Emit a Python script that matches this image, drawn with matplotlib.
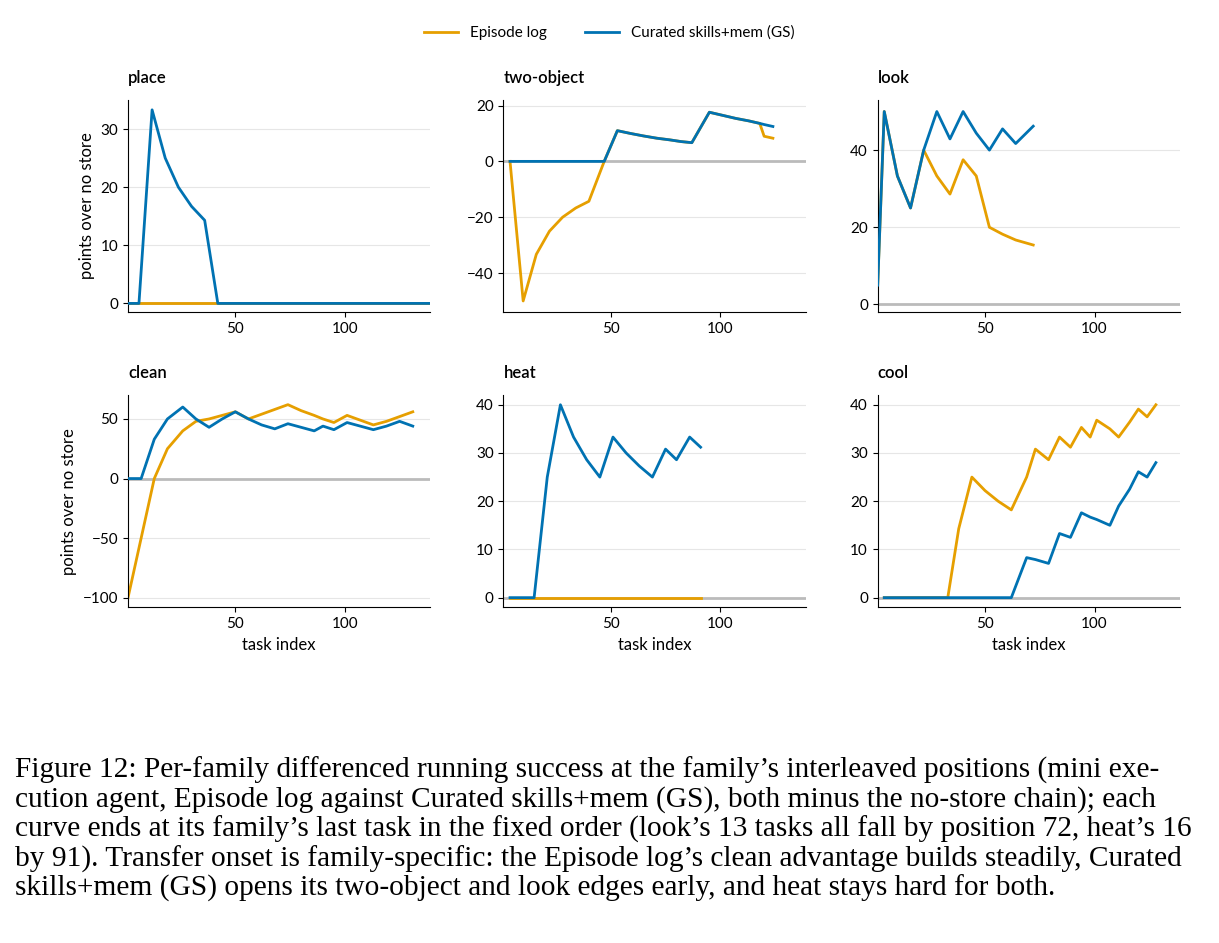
import matplotlib
matplotlib.use("Agg")
import matplotlib.pyplot as plt

plt.rcParams['font.family'] = ['Lato', 'DejaVu Sans']

ORANGE = '#E69F00'
BLUE = '#0072B2'

# per-family series: (x, episode log, curated skills+mem)
place_x = [1, 6, 12, 18, 24, 30, 36, 42, 139]
place_ep = [0, 0, 0, 0, 0, 0, 0, 0, 0]
place_gs = [0, 0, 33.3, 25, 20, 16.7, 14.3, 0, 0]

two_x = [4, 10, 16, 22, 28, 34, 40, 47, 53, 59, 65, 71, 77, 82, 87, 95, 101, 107, 113, 118, 120, 124]
two_ep = [0, -50, -33.3, -25, -20, -16.7, -14.3, 0, 11, 10, 9.1, 8.3, 7.7, 7.1, 6.7, 17.6, 16.5, 15.4, 14.5, 13.6, 9, 8.3]
two_gs = [0, 0, 0, 0, 0, 0, 0, 0, 11, 10, 9.1, 8.3, 7.7, 7.1, 6.7, 17.6, 16.5, 15.4, 14.5, 13.6, 13.2, 12.5]

look_x = [1, 4, 10, 16, 22, 28, 34, 40, 46, 52, 58, 64, 72]
look_ep = [5, 50, 33.3, 25, 40, 33.3, 28.6, 37.5, 33.3, 20, 18.2, 16.7, 15.4]
look_gs = [5, 50, 33.3, 25, 40, 50, 42.9, 50, 44.4, 40, 45.5, 41.7, 46.2]

clean_x = [1, 7, 13, 19, 26, 32, 38, 44, 50, 56, 62, 68, 74, 80, 86, 90, 95, 101, 107, 113, 119, 125, 131]
clean_ep = [-100, -50, 0, 25, 40, 48, 50, 53, 56, 50, 54, 58, 62, 57, 53, 50, 47, 53, 49, 45, 48, 52, 56]
clean_gs = [0, 0, 33, 50, 60, 50, 43, 50, 56, 50, 45, 41.7, 46, 43, 40, 44, 41, 47, 44, 41, 44, 48, 44]

heat_x = [4, 15, 21, 27, 33, 39, 45, 51, 57, 63, 69, 75, 80, 86, 91]
heat_ep = [0] * 15
heat_gs = [0, 0, 25, 40, 33.3, 28.6, 25, 33.3, 30, 27.3, 25, 30.8, 28.6, 33.3, 31.2]

cool_x = [4, 33, 38, 44, 50, 56, 62, 69, 73, 79, 84, 89, 94, 98, 101, 107, 111, 116, 120, 124, 128]
cool_ep = [0, 0, 14.3, 25, 22.2, 20, 18.2, 25, 30.8, 28.6, 33.3, 31.2, 35.3, 33.3, 36.8, 35, 33.3, 36.4, 39.1, 37.5, 40]
cool_gs = [0, 0, 0, 0, 0, 0, 0, 8.3, 7.9, 7.1, 13.3, 12.5, 17.6, 16.7, 16.2, 15, 19, 22.5, 26.1, 25, 28]

families = [
    ('place', place_x, place_ep, place_gs, [0, 10, 20, 30], (-1.5, 35)),
    ('two-object', two_x, two_ep, two_gs, [-40, -20, 0, 20], (-54, 22)),
    ('look', look_x, look_ep, look_gs, [0, 20, 40], (-2, 53)),
    ('clean', clean_x, clean_ep, clean_gs, [-100, -50, 0, 50], (-108, 70)),
    ('heat', heat_x, heat_ep, heat_gs, [0, 10, 20, 30, 40], (-2, 42)),
    ('cool', cool_x, cool_ep, cool_gs, [0, 10, 20, 30, 40], (-2, 42)),
]

fig = plt.figure(figsize=(12.19, 9.43), dpi=100)
lefts = [0.105, 0.413, 0.720]
bottoms = [0.669, 0.356]
w, h = 0.248, 0.225

for i, (name, x, ep, gs, yt, yl) in enumerate(families):
    ax = fig.add_axes([lefts[i % 3], bottoms[i // 3], w, h])
    ax.axhline(0, color='#bbbbbb', lw=2, zorder=1)
    ax.plot(x, ep, color=ORANGE, lw=2, zorder=2, label='Episode log')
    ax.plot(x, gs, color=BLUE, lw=2, zorder=3, label='Curated skills+mem (GS)')
    ax.set_xlim(1, 139)
    ax.set_xticks([50, 100])
    ax.set_yticks(yt)
    ax.set_ylim(*yl)
    ax.grid(axis='y', color='#e6e6e6', lw=0.8)
    ax.set_axisbelow(True)
    for s in ['top', 'right']:
        ax.spines[s].set_visible(False)
    ax.tick_params(labelsize=11)
    ax.set_title(name, loc='left', fontsize=12, fontweight='semibold', pad=12)
    if i % 3 == 0:
        ax.set_ylabel('points over no store', fontsize=12)
    if i >= 3:
        ax.set_xlabel('task index', fontsize=12)
    if i == 0:
        handles, labels = ax.get_legend_handles_labels()

fig.legend(handles, labels, loc='center', bbox_to_anchor=(0.5, 0.965), ncol=2,
           frameon=False, fontsize=11, handlelength=2.2, columnspacing=2.5)

caption = ("Figure 12: Per-family differenced running success at the family\u2019s interleaved positions (mini exe-\n"
           "cution agent, Episode log against Curated skills+mem (GS), both minus the no-store chain); each\n"
           "curve ends at its family\u2019s last task in the fixed order (look\u2019s 13 tasks all fall by position 72, heat\u2019s 16\n"
           "by 91). Transfer onset is family-specific: the Episode log\u2019s clean advantage builds steadily, Curated\n"
           "skills+mem (GS) opens its two-object and look edges early, and heat stays hard for both.")
fig.text(0.012, 0.198, caption, fontsize=21.2, family='Liberation Serif', va='top', linespacing=1.12)

fig.savefig('out.png', dpi=100)
